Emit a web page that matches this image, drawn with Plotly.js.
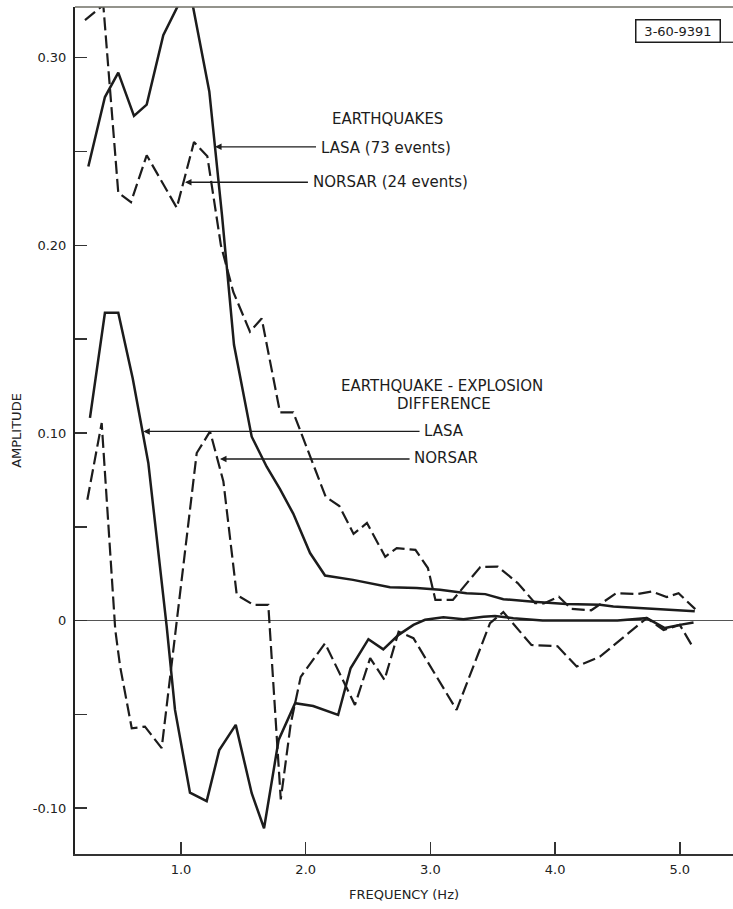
<!DOCTYPE html>
<html>
<head>
<meta charset="utf-8">
<script src="https://cdn.plot.ly/plotly-3.0.1.min.js"></script>
<style>
  html, body { margin: 0; padding: 0; background: #ffffff; }
  #chart { width: 733px; height: 909px; }
</style>
</head>
<body>
<div id="chart"></div>
<script>
// ---- Earthquakes: LASA (73 events), solid ----
const eqLasaFreq = [0.257, 0.39, 0.497, 0.623, 0.725, 0.858, 0.978, 1.094, 1.227, 1.329, 1.425, 1.567, 1.687, 1.794, 1.90, 2.035, 2.155, 2.38, 2.676, 2.89, 3.077, 3.29, 3.44, 3.585, 3.826, 4.09, 4.36, 4.467, 5.12];
const eqLasaAmp  = [0.242, 0.279, 0.292, 0.269, 0.275, 0.312, 0.328, 0.328, 0.282, 0.216, 0.147, 0.098, 0.082, 0.070, 0.057, 0.036, 0.024, 0.0217, 0.0178, 0.0173, 0.0164, 0.0146, 0.0141, 0.0114, 0.0101, 0.0089, 0.0084, 0.0075, 0.0050];

// ---- Earthquakes: NORSAR (24 events), dashed ----
const eqNorsarFreq = [0.23, 0.377, 0.497, 0.599, 0.725, 0.966, 1.104, 1.211, 1.32, 1.42, 1.553, 1.647, 1.794, 1.90, 2.16, 2.27, 2.384, 2.491, 2.638, 2.73, 2.88, 2.98, 3.04, 3.18, 3.40, 3.54, 3.70, 3.84, 3.91, 4.03, 4.13, 4.29, 4.49, 4.654, 4.775, 4.895, 4.99, 5.124];
const eqNorsarAmp  = [0.320, 0.328, 0.228, 0.223, 0.248, 0.220, 0.255, 0.2475, 0.200, 0.175, 0.154, 0.161, 0.111, 0.111, 0.066, 0.061, 0.0462, 0.052, 0.034, 0.0386, 0.0377, 0.028, 0.011, 0.011, 0.0285, 0.0288, 0.020, 0.0093, 0.0091, 0.0127, 0.0062, 0.0055, 0.0146, 0.0141, 0.0155, 0.0125, 0.0146, 0.0061];

// ---- Earthquake - explosion difference: LASA, solid ----
const diffLasaFreq = [0.27, 0.39, 0.497, 0.613, 0.738, 0.885, 0.952, 1.072, 1.206, 1.307, 1.439, 1.567, 1.666, 1.783, 1.915, 2.06, 2.26, 2.36, 2.503, 2.622, 2.745, 2.864, 2.957, 3.104, 3.265, 3.425, 3.518, 3.665, 3.9, 4.2, 4.5, 4.735, 4.88, 5.0, 5.11];
const diffLasaAmp  = [0.108, 0.164, 0.164, 0.129, 0.084, -0.003, -0.0476, -0.0917, -0.0962, -0.069, -0.0556, -0.092, -0.1107, -0.0636, -0.044, -0.0455, -0.0503, -0.0254, -0.0099, -0.0153, -0.0076, -0.0023, 0.0004, 0.0018, 0.0007, 0.0021, 0.0025, 0.0013, 0.0, 0.0, 0.0, 0.0013, -0.004, -0.0023, -0.001];

// ---- Earthquake - explosion difference: NORSAR, dashed ----
const diffNorsarFreq = [0.249, 0.364, 0.473, 0.512, 0.605, 0.711, 0.845, 1.126, 1.233, 1.34, 1.447, 1.58, 1.70, 1.80, 1.88, 1.96, 2.155, 2.395, 2.517, 2.632, 2.745, 2.864, 3.21, 3.478, 3.585, 3.81, 4.02, 4.173, 4.36, 4.735, 4.87, 5.0, 5.11];
const diffNorsarAmp  = [0.0644, 0.1053, -0.005, -0.0245, -0.0574, -0.0565, -0.068, 0.0893, 0.1008, 0.0741, 0.0137, 0.0084, 0.0084, -0.0953, -0.055, -0.030, -0.0121, -0.045, -0.020, -0.0316, -0.0059, -0.0094, -0.0476, -0.0014, 0.0045, -0.013, -0.0137, -0.0245, -0.0192, 0.0013, -0.005, -0.0023, -0.0147];

// ---- Axis ticks ----
const xTickVals = [1, 2, 3, 4, 5];
const xTickText = ['1.0', '2.0', '3.0', '4.0', '5.0'];
const yTickVals = [-0.10, -0.05, 0, 0.05, 0.10, 0.15, 0.20, 0.25, 0.30];
const yTickText = ['-0.10', '', '0', '', '0.10', '', '0.20', '', '0.30'];

const INK = '#1c1c1c';
const FONT = 'DejaVu Sans, Liberation Sans, sans-serif';

const solid = {color: INK, width: 2.5};
const dashed = {color: INK, width: 2.2, dash: '13px,5px'};

const traces = [
  {x: eqLasaFreq, y: eqLasaAmp, mode: 'lines', line: solid, name: 'LASA (73 events)', hoverinfo: 'x+y'},
  {x: eqNorsarFreq, y: eqNorsarAmp, mode: 'lines', line: dashed, name: 'NORSAR (24 events)', hoverinfo: 'x+y'},
  {x: diffLasaFreq, y: diffLasaAmp, mode: 'lines', line: solid, name: 'LASA difference', hoverinfo: 'x+y'},
  {x: diffNorsarFreq, y: diffNorsarAmp, mode: 'lines', line: dashed, name: 'NORSAR difference', hoverinfo: 'x+y'}
];

function label(text, x, y, xanchor) {
  return {text: text, x: x, y: y, xref: 'x', yref: 'y', xanchor: xanchor, yanchor: 'middle',
          showarrow: false, font: {family: FONT, size: 15, color: INK}};
}
function pointer(xTip, yTip, xTail) {
  return {text: '', x: xTip, y: yTip, xref: 'x', yref: 'y', ax: xTail, ay: yTip, axref: 'x', ayref: 'y',
          showarrow: true, arrowhead: 2, arrowsize: 1, arrowwidth: 1.3, arrowcolor: INK, standoff: 0, startstandoff: 0};
}

const annotations = [
  label('EARTHQUAKES', 2.656, 0.2673, 'center'),
  label('LASA (73 events)', 2.105, 0.2516, 'left'),
  pointer(1.273, 0.2525, 2.095),
  label('NORSAR (24 events)', 2.044, 0.2336, 'left'),
  pointer(1.032, 0.2336, 2.030),
  label('EARTHQUAKE - EXPLOSION', 3.091, 0.1252, 'center'),
  label('DIFFERENCE', 3.107, 0.1156, 'center'),
  label('LASA', 2.935, 0.1012, 'left'),
  pointer(0.698, 0.1008, 2.925),
  label('NORSAR', 2.855, 0.0864, 'left'),
  pointer(1.313, 0.0861, 2.845),
  {text: '3-60-9391', xref: 'paper', yref: 'paper', x: 0.9157, y: 0.9714, xanchor: 'center', yanchor: 'middle',
   showarrow: false, font: {family: FONT, size: 13, color: INK}, bordercolor: INK, borderwidth: 1.5,
   borderpad: 3, width: 77, height: 15, bgcolor: '#ffffff'}
];

const layout = {
  width: 733, height: 909,
  margin: {l: 75, r: 0, t: 7, b: 55, pad: 0},
  paper_bgcolor: '#ffffff', plot_bgcolor: '#ffffff',
  showlegend: false,
  font: {family: FONT, size: 13, color: '#222'},
  xaxis: {
    range: [0.150, 5.4266], showgrid: false, zeroline: false,
    showline: true, linecolor: '#333', linewidth: 1.5,
    ticks: 'inside', ticklen: 12, tickwidth: 1.5, tickcolor: '#333',
    tickvals: xTickVals, ticktext: xTickText, ticklabelstandoff: 3,
    tickfont: {family: FONT, size: 13, color: '#222'},
    title: {text: 'FREQUENCY (Hz)', font: {family: FONT, size: 13, color: '#222'}, standoff: 14},
    automargin: false, fixedrange: true
  },
  yaxis: {
    range: [-0.1244, 0.327], showgrid: false,
    zeroline: true, zerolinecolor: '#555', zerolinewidth: 1,
    showline: true, linecolor: '#222', linewidth: 2,
    ticks: 'inside', ticklen: 12, tickwidth: 1.5, tickcolor: '#333',
    tickvals: yTickVals, ticktext: yTickText, ticklabelstandoff: 4,
    tickfont: {family: FONT, size: 13, color: '#222'},
    title: {text: 'AMPLITUDE', font: {family: FONT, size: 13, color: '#222'}, standoff: 8},
    automargin: false, fixedrange: true
  },
  shapes: [
    {type: 'line', xref: 'paper', yref: 'paper', x0: 0, x1: 1, y0: 1, y1: 1, line: {color: '#6f6f66', width: 1.5}},
    {type: 'line', xref: 'paper', yref: 'paper', x0: 0.982, x1: 1, y0: 0.9584, y1: 0.9584, line: {color: INK, width: 1.2}}
  ],
  annotations: annotations
};

Plotly.newPlot('chart', traces, layout, {staticPlot: true, displayModeBar: false});
</script>
</body>
</html>
